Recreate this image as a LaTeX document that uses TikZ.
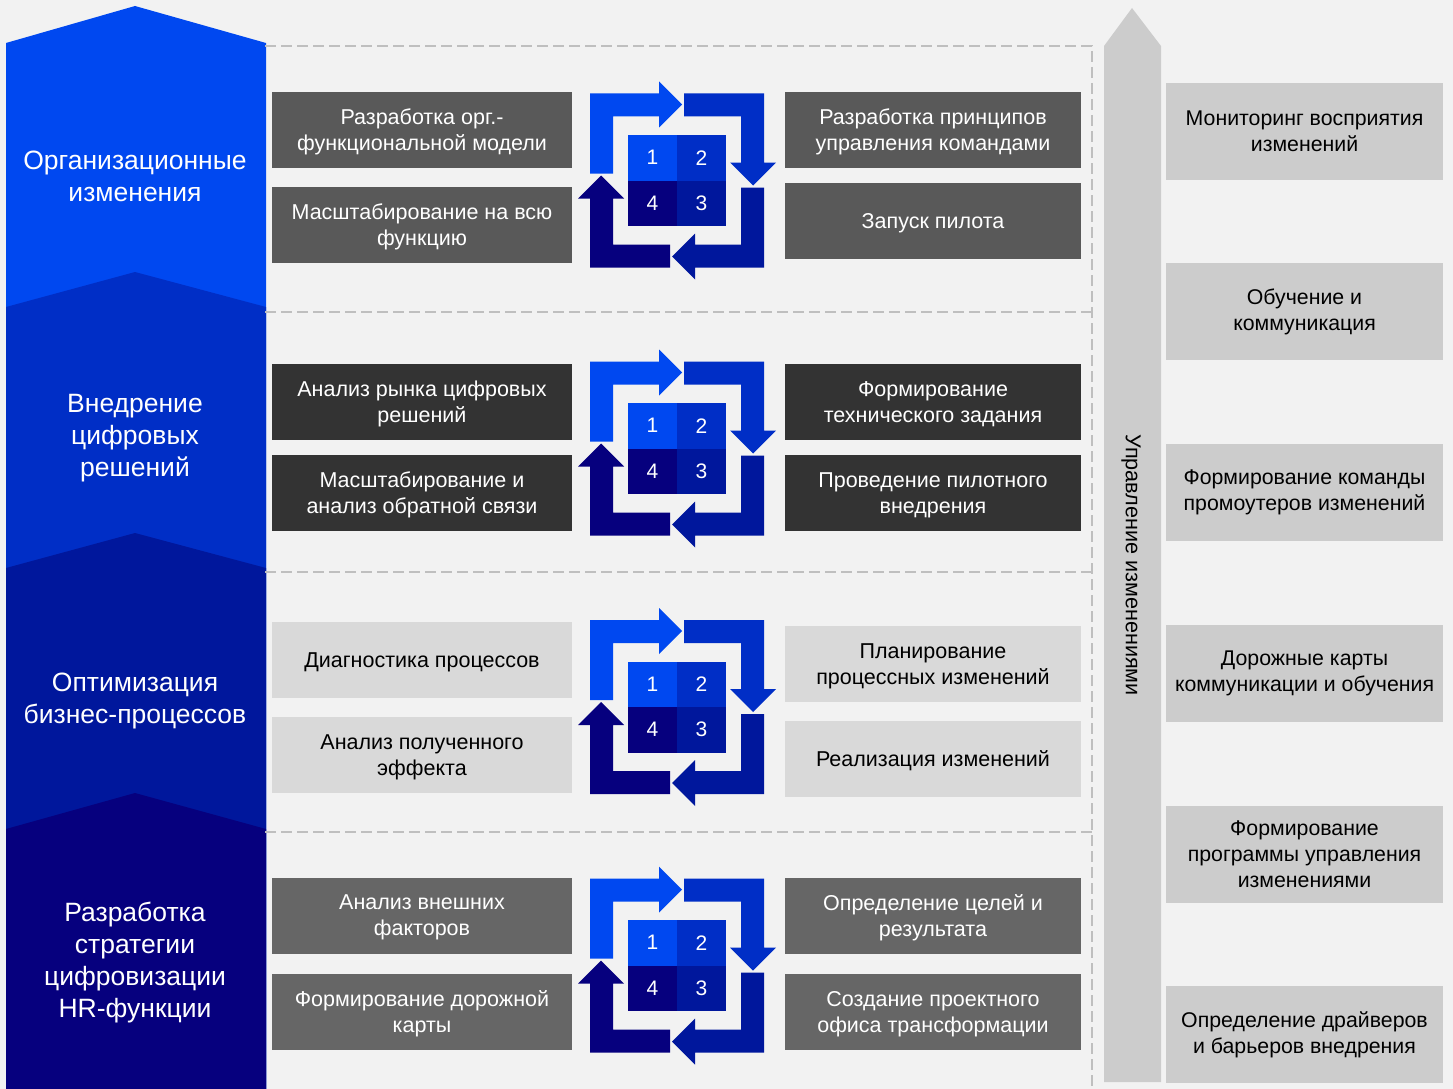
\documentclass[tikz,border=0pt]{standalone}
\usepackage{fontspec}
\setmainfont{Liberation Sans}

\definecolor{paper}{HTML}{F2F2F2}
\definecolor{cyA}{HTML}{0048F0}
\definecolor{cyB}{HTML}{002EC6}
\definecolor{cyC}{HTML}{00179C}
\definecolor{cyD}{HTML}{06007E}
\definecolor{grayA}{HTML}{595959}
\definecolor{grayB}{HTML}{333333}
\definecolor{grayC}{HTML}{D9D9D9}
\definecolor{grayD}{HTML}{666666}
\definecolor{sidegray}{HTML}{CCCCCC}
\definecolor{sepgray}{HTML}{BFBFBF}

\begin{document}
\begin{tikzpicture}[x=1pt,y=-1pt]
\tikzstyle{every node}=[align=center, inner sep=0pt]
\tikzstyle{stagebox}=[minimum height=76pt, text depth=0pt, text=white, font=\fontsize{21.5}{26}\selectfont]
\tikzstyle{lbox}=[stagebox, minimum width=300pt]
\tikzstyle{rbox}=[stagebox, minimum width=296pt]
\tikzstyle{sidebox}=[fill=sidegray, minimum width=277pt, minimum height=97pt, font=\fontsize{21.3}{26}\selectfont]
\tikzstyle{bandtext}=[text=white, font=\fontsize{26.5}{32}\selectfont]
\tikzstyle{divider}=[draw=sepgray, line width=1.6pt, dash pattern=on 11pt off 5pt]
\tikzstyle{quadcell}=[minimum width=49pt, minimum height=45.5pt, text=white, font=\fontsize{21}{22}\selectfont]
\tikzset{cycleicon/.pic={
  \foreach \ang/\col in {0/cyA,-90/cyB,-180/cyC,-270/cyD}
    \fill[\col, rotate=\ang] (-87,-7) -- (-87,-87) -- (-18,-87) -- (-18,-99) -- (5,-76)
      -- (-18,-53) -- (-18,-64) -- (-64,-64) -- (-64,-7) -- cycle;
  \node[quadcell, fill=cyA] (-q1) at (-24.5,-22.75) {1};
  \node[quadcell, fill=cyB] (-q2) at (24.5,-22.75) {2};
  \node[quadcell, fill=cyC] (-q3) at (24.5,22.75) {3};
  \node[quadcell, fill=cyD] (-q4) at (-24.5,22.75) {4};
}}

\fill[paper] (0,0) rectangle (1453,1089);
\useasboundingbox (0,0) rectangle (1453,1089);

% left bands
\fill[cyA] (6,43) -- (135,6) -- (266,43) -- (266,1089) -- (6,1089) -- cycle;
\fill[cyB] (6,307) -- (135,272) -- (266,307) -- (266,1089) -- (6,1089) -- cycle;
\fill[cyC] (6,568) -- (135,533) -- (266,568) -- (266,1089) -- (6,1089) -- cycle;
\fill[cyD] (6,829) -- (135,793) -- (266,829) -- (266,1089) -- (6,1089) -- cycle;
\node[bandtext] (org) at (135,176) {Организационные\\изменения};
\node[bandtext] (digital) at (135,438) {Внедрение\\цифровых\\решений};
\node[bandtext] (process) at (135,701) {Оптимизация\\бизнес-процессов};
\node[bandtext] (strategy) at (135,963) {Разработка\\стратегии\\цифровизации\\HR-функции};

% dashed frame
\draw[divider] (265,46) -- (1092,46) -- (1092,1089);
\draw[divider] (265,312) -- (1092,312);
\draw[divider] (265,572) -- (1092,572);
\draw[divider] (265,832) -- (1092,832);

% stage 1
\node[lbox, fill=grayA] (orgmodel) at (422,130) {Разработка орг.-\\функциональной модели};
\node[lbox, fill=grayA] (orgscale) at (422,225) {Масштабирование на всю\\функцию};
\node[rbox, fill=grayA] (orgteams) at (933,130) {Разработка принципов\\управления командами};
\node[rbox, fill=grayA] (orgpilot) at (933,221) {Запуск пилота};
\pic (cyc1) at (677,180.5) {cycleicon};

% stage 2
\node[lbox, fill=grayB] (digmarket) at (422,402) {Анализ рынка цифровых\\решений};
\node[lbox, fill=grayB] (digscale) at (422,493) {Масштабирование и\\анализ обратной связи};
\node[rbox, fill=grayB] (digspec) at (933,402) {Формирование\\технического задания};
\node[rbox, fill=grayB] (digpilot) at (933,493) {Проведение пилотного\\внедрения};
\pic (cyc2) at (677,448.5) {cycleicon};

% stage 3
\node[lbox, fill=grayC, text=black] (procdiag) at (422,660) {Диагностика процессов};
\node[lbox, fill=grayC, text=black] (proceffect) at (422,755) {Анализ полученного\\эффекта};
\node[rbox, fill=grayC, text=black] (procplan) at (933,664) {Планирование\\процессных изменений};
\node[rbox, fill=grayC, text=black] (procdo) at (933,759) {Реализация изменений};
\pic (cyc3) at (677,707) {cycleicon};

% stage 4
\node[lbox, fill=grayD] (stratext) at (422,915.5) {Анализ внешних\\факторов};
\node[lbox, fill=grayD] (stratmap) at (422,1012) {Формирование дорожной\\карты};
\node[rbox, fill=grayD] (stratgoals) at (933,915.5) {Определение целей и\\результата};
\node[rbox, fill=grayD] (stratoffice) at (933,1012) {Создание проектного\\офиса трансформации};
\pic (cyc4) at (677,965.5) {cycleicon};

% change management arrow
\fill[sidegray] (1104,46) -- (1132,8) -- (1161,46) -- (1161,1082) -- (1104,1082) -- cycle;
\node[rotate=-90, font=\fontsize{21.6}{24}\selectfont] (mgmt) at (1131,565) {Управление изменениями};

\node[sidebox] (monitor) at (1304.5,131.5) {Мониторинг восприятия\\изменений};
\node[sidebox] (training) at (1304.5,311.5) {Обучение и\\коммуникация};
\node[sidebox] (promoters) at (1304.5,492.5) {Формирование команды\\промоутеров изменений};
\node[sidebox] (roadmaps) at (1304.5,673.5) {Дорожные карты\\коммуникации и обучения};
\node[sidebox] (program) at (1304.5,854.5) {Формирование\\программы управления\\изменениями};
\node[sidebox] (drivers) at (1304.5,1034.5) {Определение драйверов\\и барьеров внедрения};
\end{tikzpicture}
\end{document}
